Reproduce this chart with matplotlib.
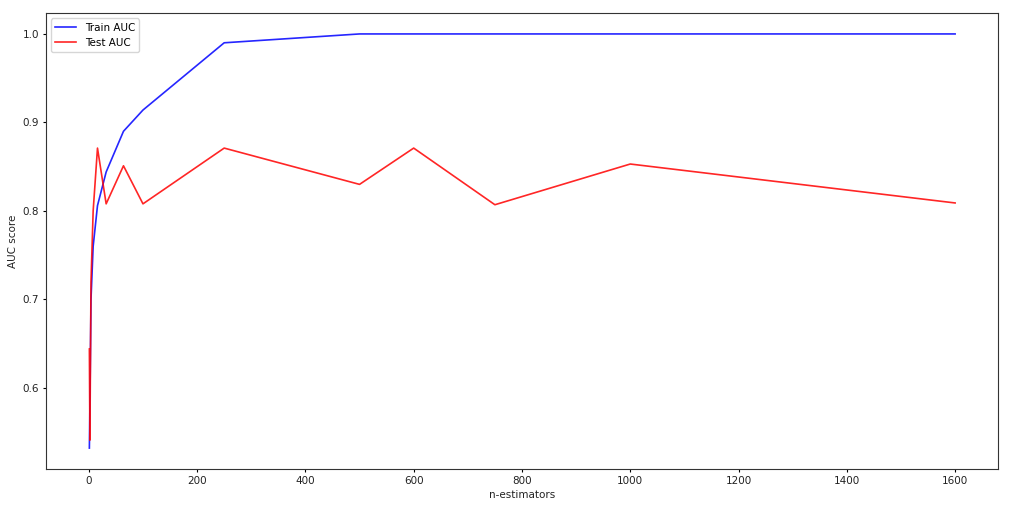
import matplotlib
matplotlib.use("Agg")
import matplotlib.pyplot as plt

# n_estimators tried and the resulting AUC scores
n_estimators = [1, 2, 4, 8, 16, 32, 64, 100, 250, 500, 600, 750, 1000, 1600]
train_auc = [0.532, 0.58, 0.70, 0.76, 0.806, 0.844, 0.890, 0.914, 0.990, 1.0, 1.0, 1.0, 1.0, 1.0]
test_auc = [0.644, 0.541, 0.72, 0.80, 0.871, 0.808, 0.851, 0.808, 0.871, 0.830, 0.871, 0.807, 0.853, 0.809]

fig = plt.figure(figsize=(10.24, 5.09), dpi=100)
ax = fig.add_axes([0.045, 0.079, 0.930, 0.895])

ax.plot(n_estimators, train_auc, 'b', label='Train AUC', linewidth=1.2, alpha=0.85)
ax.plot(n_estimators, test_auc, 'r', label='Test AUC', linewidth=1.2, alpha=0.85)

ax.legend(loc='upper left', fontsize=7.5)
ax.set_ylabel('AUC score', fontsize=7.5, color='#222222', labelpad=3)
ax.set_xlabel('n-estimators', fontsize=7.5, color='#222222', labelpad=3)
ax.tick_params(labelsize=7.5, width=0.8, length=2.5, pad=2.5, labelcolor='#222222')
for s in ax.spines.values():
    s.set_linewidth(0.8)
    s.set_color('#333333')

fig.savefig('out.png', dpi=100)
